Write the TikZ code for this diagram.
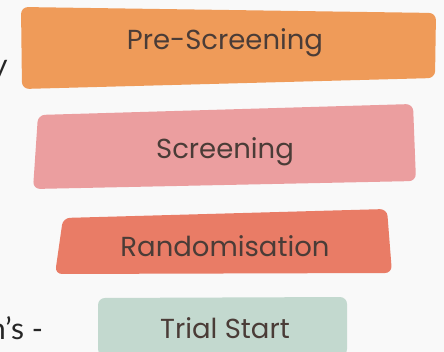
\documentclass[tikz,border=0pt]{standalone}
\usepackage{fontspec}
\setmainfont{Poppins}
\newfontfamily\sidefont{Lato}
\definecolor{bgc}{HTML}{F9F9F9}
\definecolor{c1}{HTML}{EF9B59}
\definecolor{c2}{HTML}{EB9E9F}
\definecolor{c3}{HTML}{E97C66}
\definecolor{c4}{HTML}{C3D9CF}
\definecolor{txt}{HTML}{4A3C37}
\tikzset{
  band/.style={rounded corners=7pt, draw=none},
  label/.style={text=txt, font=\fontsize{27.5}{30}\selectfont, inner sep=0pt},
  sidetext/.style={text=black!85, font=\sidefont\fontsize{30}{34}\selectfont, inner sep=0pt, anchor=base west}
}
\begin{document}
\begin{tikzpicture}[x=1pt,y=-1pt]
\useasboundingbox (0,0) rectangle (444,352);
\fill[bgc] (0,0) rectangle (444,352);
\begin{scope}
\clip (0,0) rectangle (444,352);
\fill[c1, band] (21,7) -- (436,13) -- (435,78) -- (22,89) -- cycle;
\fill[c2, band] (38,115) -- (413,104) -- (416,181) -- (33,189) -- cycle;
\fill[c3, band] (63,218) -- (387,209) -- (392,273) -- (55,274) -- cycle;
\fill[c4, band] (98,298) -- (347,297) -- (347,356) -- (98,356) -- cycle;
\node[sidetext] (s1) at (-8,76) {y};
\node[sidetext] (s2) at (-11,339) {n’s -};
\end{scope}
\node[label] (n1) at (225,43) {Pre-Screening};
\node[label] (n2) at (225,152) {Screening};
\node[label] (n3) at (225,246) {Randomisation};
\node[label] (n4) at (225,328) {Trial Start};
\end{tikzpicture}
\end{document}
